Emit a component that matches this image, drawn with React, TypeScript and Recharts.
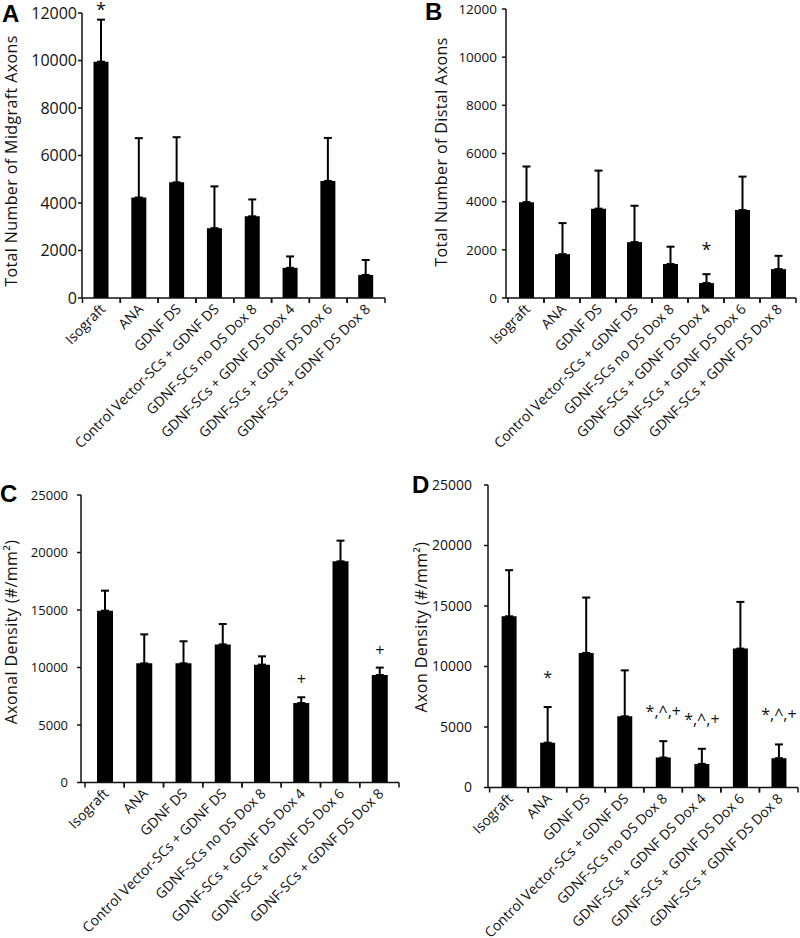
import React from 'react';
import { BarChart, Bar, XAxis, YAxis, ErrorBar, LabelList } from 'recharts';

const groups = [
  'Isograft',
  'ANA',
  'GDNF DS',
  'Control Vector-SCs + GDNF DS',
  'GDNF-SCs no DS Dox 8',
  'GDNF-SCs + GDNF DS Dox 4',
  'GDNF-SCs + GDNF DS Dox 6',
  'GDNF-SCs + GDNF DS Dox 8',
];

// A - midgraft axon counts
const midgraftMean = [9950, 4230, 4870, 2940, 3440, 1270, 4930, 970];
const midgraftSd = [1770, 2500, 1900, 1760, 710, 480, 1810, 630];
const midgraftMarks = ['*', '', '', '', '', '', '', ''];

// B - distal axon counts
const distalMean = [3980, 1820, 3710, 2320, 1410, 620, 3650, 1200];
const distalSd = [1480, 1290, 1580, 1510, 720, 370, 1390, 550];
const distalMarks = ['', '', '', '', '', '*', '', ''];

// C - axonal density (midgraft)
const axonalDensityMean = [14940, 10360, 10360, 12010, 10250, 6910, 19230, 9350];
const axonalDensitySd = [1740, 2520, 1920, 1770, 720, 500, 1800, 640];
const axonalDensityMarks = ['', '', '', '', '', '+', '', '+'];

// D - axon density (distal)
const axonDensityMean = [14150, 3700, 11120, 5880, 2470, 1950, 11480, 2420];
const axonDensitySd = [3810, 2950, 4580, 3800, 1360, 1250, 3860, 1140];
const axonDensityMarks = ['', '*', '', '', '*,^,+', '*,^,+', '', '*,^,+'];

const countTicks = [0, 2000, 4000, 6000, 8000, 10000, 12000];
const densityTicks = [0, 5000, 10000, 15000, 20000, 25000];

const FONT = '"Open Sans", sans-serif';
const INK = '#111';

type Row = { name: string; mean: number; err: [number, number]; mark: string };

const buildRows = (mean: number[], sd: number[], marks: string[]): Row[] =>
  groups.map((name, i) => ({ name, mean: mean[i], err: [0, sd[i]], mark: marks[i] }));

const GroupTick = (props: any) => {
  const { x, y, payload } = props;
  const half = payload?.offset ?? 19;
  const ax = x + 5;
  const ay = y + 12;
  return (
    <g>
      <line x1={x - half} y1={y} x2={x - half} y2={y + 5} stroke={INK} strokeWidth={1.5} />
      <line x1={x + half} y1={y} x2={x + half} y2={y + 5} stroke={INK} strokeWidth={1.5} />
      <text
        x={ax}
        y={ay}
        transform={`rotate(-45 ${ax} ${ay})`}
        textAnchor="end"
        fontSize={14}
        fontFamily={FONT}
        fill={INK}
      >
        {payload.value}
      </text>
    </g>
  );
};

const AxisTitle = ({ text, tx, ty }: { text: string; tx: number; ty: number }) => (
  <text
    transform={`translate(${tx},${ty}) rotate(-90)`}
    textAnchor="middle"
    dominantBaseline="central"
    fontSize={16}
    letterSpacing={0.4}
    fontFamily={FONT}
    fill={INK}
  >
    {text}
  </text>
);

const markLabel = (rows: Row[], lift: number, size: number) => (props: any) => {
  const vb = props.viewBox ?? props;
  const row = rows[props.index];
  if (!row || !row.mark) return null;
  const x = Number(vb.x);
  const y = Number(vb.y);
  const w = Number(vb.width);
  const h = Number(vb.height);
  const errTop = y - (row.err[1] * h) / row.mean;
  return (
    <text x={x + w / 2} y={errTop - lift} textAnchor="middle" fontSize={size} fontFamily={FONT} fill={INK}>
      {row.mark}
    </text>
  );
};

interface PanelProps {
  rows: Row[];
  left: number;
  top: number;
  marginTop: number;
  marginRight: number;
  yWidth: number;
  xHeight: number;
  padLeft: number;
  ticks: number[];
  yMax: number;
  labelGap: number;
  tickFont: number;
  title: string;
  titleX: number;
  titleY: number;
  barSize: number;
  lift: number;
  markSize: number;
}

const Panel = (p: PanelProps) => (
  <div style={{ position: 'absolute', left: p.left, top: p.top }}>
    <BarChart
      width={400}
      height={469}
      data={p.rows}
      margin={{ top: p.marginTop, right: p.marginRight, bottom: 0, left: 0 }}
    >
      <XAxis
        dataKey="name"
        interval={0}
        height={p.xHeight}
        padding={{ left: p.padLeft, right: 0 }}
        axisLine={{ stroke: INK, strokeWidth: 1.5 }}
        tickLine={false}
        tickSize={0}
        tickMargin={0}
        tick={<GroupTick />}
      />
      <YAxis
        width={p.yWidth}
        domain={[0, p.yMax]}
        ticks={p.ticks}
        interval={0}
        allowDataOverflow
        axisLine={{ stroke: INK, strokeWidth: 1.5 }}
        tickLine={{ stroke: INK, strokeWidth: 1.5 }}
        tickSize={4}
        tickMargin={p.labelGap}
        tick={{ fontSize: p.tickFont, fontFamily: FONT, fill: INK }}
        label={<AxisTitle text={p.title} tx={p.titleX} ty={p.titleY} />}
      />
      <Bar dataKey="mean" fill="#000" barSize={p.barSize} isAnimationActive={false}>
        <ErrorBar dataKey="err" width={4} stroke="#000" strokeWidth={2} direction="y" />
        <LabelList dataKey="mark" content={markLabel(p.rows, p.lift, p.markSize)} />
      </Bar>
    </BarChart>
  </div>
);

const letterStyle = { fontFamily: '"Liberation Sans", Arial, sans-serif', fontWeight: 700, fontSize: 24 };

export default function App() {
  return (
    <div
      style={{
        position: 'absolute',
        left: 0,
        top: 0,
        width: 800,
        height: 938,
        background: '#fff',
        overflow: 'hidden',
      }}
    >
      <Panel
        rows={buildRows(midgraftMean, midgraftSd, midgraftMarks)}
        left={0}
        top={0}
        marginTop={13}
        marginRight={15}
        yWidth={82}
        xHeight={171}
        padLeft={0.5}
        ticks={countTicks}
        yMax={12000}
        labelGap={1}
        tickFont={16}
        title="Total Number of Midgraft Axons"
        titleX={11}
        titleY={161}
        barSize={15}
        lift={4}
        markSize={18}
      />
      <Panel
        rows={buildRows(distalMean, distalSd, distalMarks)}
        left={400}
        top={0}
        marginTop={9}
        marginRight={4}
        yWidth={106}
        xHeight={171}
        padLeft={2}
        ticks={countTicks}
        yMax={12000}
        labelGap={5}
        tickFont={13.5}
        title="Total Number of Distal Axons"
        titleX={41}
        titleY={152}
        barSize={15}
        lift={18}
        markSize={18}
      />
      <Panel
        rows={buildRows(axonalDensityMean, axonalDensitySd, axonalDensityMarks)}
        left={0}
        top={469}
        marginTop={26}
        marginRight={1}
        yWidth={81}
        xHeight={155.5}
        padLeft={4}
        ticks={densityTicks}
        yMax={25000}
        labelGap={9}
        tickFont={13}
        title="Axonal Density (#/mm²)"
        titleX={11}
        titleY={163}
        barSize={16}
        lift={12}
        markSize={16}
      />
      <Panel
        rows={buildRows(axonDensityMean, axonDensitySd, axonDensityMarks)}
        left={400}
        top={469}
        marginTop={16}
        marginRight={2}
        yWidth={88}
        xHeight={150.5}
        padLeft={1.6}
        ticks={densityTicks}
        yMax={25000}
        labelGap={12}
        tickFont={14}
        title="Axon Density (#/mm²)"
        titleX={21}
        titleY={158}
        barSize={15}
        lift={24}
        markSize={16}
      />
      <svg
        width={800}
        height={938}
        style={{ position: 'absolute', left: 0, top: 0, pointerEvents: 'none' }}
      >
        <text x={2} y={22} style={letterStyle} fill="#000">A</text>
        <text x={425} y={20} style={letterStyle} fill="#000">B</text>
        <text x={0} y={502} style={letterStyle} fill="#000">C</text>
        <text x={412} y={493} style={letterStyle} fill="#000">D</text>
      </svg>
    </div>
  );
}
